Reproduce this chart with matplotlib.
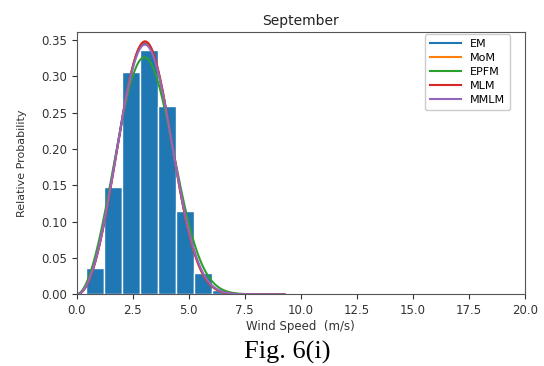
import matplotlib

matplotlib.use("Agg")

import matplotlib.pyplot as plt
import numpy as np

# Observed wind speed histogram (density), September
bin_edges = [0.42, 1.22, 2.02, 2.82, 3.62, 4.42, 5.22, 6.02, 6.82, 7.62, 8.42, 9.22]
rel_prob = [0.036, 0.148, 0.306, 0.336, 0.259, 0.115, 0.029, 0.0055, 0.0012, 0.0, 0.0]

# Weibull parameters per estimation method
methods = ["EM", "MoM", "EPFM", "MLM", "MMLM"]
shape_k = [3.06, 3.08, 2.90, 3.09, 3.05]
scale_c = [3.46, 3.46, 3.50, 3.465, 3.47]
colors = ["#1f77b4", "#ff7f0e", "#2ca02c", "#d62728", "#9467bd"]

x_max = 9.27
month = "September"


def weibull_pdf(v, k, c):
    return (k / c) * (v / c) ** (k - 1) * np.exp(-((v / c) ** k))


fig = plt.figure(figsize=(5.44, 3.66), dpi=100)
ax = fig.add_axes([76.7 / 544, 1 - 294.3 / 366, 448 / 544, 262.6 / 366])

edges = np.array(bin_edges)
ax.bar(edges[:-1], rel_prob, width=np.diff(edges), align="edge",
       color="#1f77b4", edgecolor="white", linewidth=1.0)

v = np.linspace(0, x_max, 300)
for name, k, c, col in zip(methods, shape_k, scale_c, colors):
    ax.plot(v, weibull_pdf(v, k, c), color=col, linewidth=1.5, label=name)

ax.set_xlim(0, 20)
ax.set_ylim(0, 0.3614)
ax.set_xticks(np.arange(0, 20.1, 2.5))
ax.set_yticks(np.arange(0, 0.351, 0.05))
ax.tick_params(labelsize=8.5, length=3.5, width=0.8, colors="#333333")
for s in ax.spines.values():
    s.set_color("#555555")

ax.set_title(month, fontsize=10, color="#222222", pad=5)
ax.set_xlabel("Wind Speed  (m/s)", fontsize=8.5, color="#333333", labelpad=2)
ax.set_ylabel("Relative Probability", fontsize=8, color="#333333", labelpad=10)
ax.legend(loc="upper right", bbox_to_anchor=(0.967, 0.99), borderaxespad=0,
          fontsize=8, labelspacing=0.35, handlelength=2.8,
          borderpad=0.45, framealpha=1.0)

fig.text(287 / 544, 1 - 352 / 366, "Fig. 6(i)", ha="center", va="center",
         fontsize=19, family="Liberation Serif")

fig.savefig("out.png", dpi=100)
